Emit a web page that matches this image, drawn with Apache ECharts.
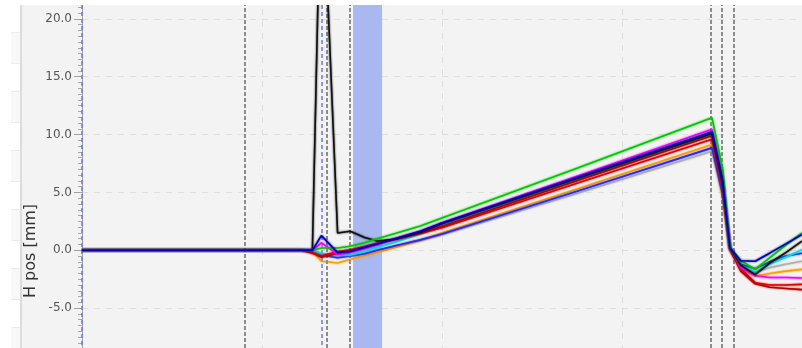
<!DOCTYPE html>
<html>
<head>
<meta charset="utf-8">
<script src="https://cdn.jsdelivr.net/npm/echarts@6/dist/echarts.min.js"></script>
<style>
  html, body { margin: 0; padding: 0; background: #ffffff; width: 802px; height: 348px; overflow: hidden; }
  .side { position: absolute; left: 11px; width: 9px; height: 30px; background: #f8f8f8; border-top: 1px solid #ececec; border-bottom: 1px solid #ececec; }
  #panel { position: absolute; left: 20px; top: 5px; width: 782px; height: 343px; background: #f3f3f3; border-left: 2px solid #dcdcdc; box-sizing: border-box; overflow: hidden; }
  #chart { position: absolute; left: -22px; top: -44px; width: 802px; height: 405px; }
</style>
</head>
<body>
<div class="side" style="top:32px"></div>
<div class="side" style="top:91px"></div>
<div class="side" style="top:150px"></div>
<div class="side" style="top:209px"></div>
<div class="side" style="top:268px"></div>
<div class="side" style="top:327px"></div>
<div id="panel"><div id="chart"></div></div>
<script>
// sample positions along the orbit coordinate
const xs = [0, 12.2, 12.8, 13.3, 14.2, 14.9, 15.7, 16.4, 17.4, 18.8, 20.0, 27.5, 35.0, 35.6, 36.0, 36.6, 37.4, 38.2, 39.1, 40.0];

// horizontal position per trace [mm]
const hGray    = [0, 0, 0, -0.3, -0.5, -0.5, -0.3, 0.0, 0.35, 0.85, 1.35, 4.9, 8.55, 4.7, 0.1, -1.3, -1.9, -1.5, -1.2, -0.95];
const hOrange  = [0, 0, -0.1, -0.95, -1.1, -0.8, -0.5, -0.2, 0.25, 0.85, 1.5, 5.3, 9.15, 4.5, 0.0, -1.6, -2.25, -2.0, -1.8, -1.65];
const hBlue2   = [0, 0, 0, -0.4, -0.65, -0.5, -0.3, 0.0, 0.4, 0.9, 1.4, 5.1, 8.85, 4.8, 0.1, -1.2, -1.6, -1.0, -0.5, -0.25];
const hCyan    = [0, 0, 0, -0.3, -0.4, -0.4, -0.1, 0.25, 0.7, 1.4, 2.15, 6.1, 10.0, 5.7, 0.2, -1.4, -1.9, -1.2, -0.6, 0.05];
const hRed     = [0, 0, -0.25, -0.5, -0.1, 0.05, 0.3, 0.6, 0.95, 1.45, 1.95, 5.8, 9.6, 5.4, 0.1, -1.6, -2.8, -3.0, -3.0, -2.95];
const hDarkRed = [0, 0, -0.2, -0.6, -0.25, 0.0, 0.25, 0.55, 0.95, 1.5, 2.05, 6.0, 9.9, 5.6, 0.1, -1.8, -2.9, -3.2, -3.3, -3.4];
const hMagenta = [0, 0, 0, 0.65, -0.35, -0.2, 0.15, 0.5, 1.0, 1.65, 2.35, 6.4, 10.45, 6.3, 0.3, -1.5, -2.2, -2.35, -2.35, -2.4];
const hBlack   = [0, 0, 0, 35, 1.5, 1.65, 1.1, 0.8, 0.95, 1.55, 2.3, 6.2, 10.1, 5.8, 0.2, -1.3, -2.1, -1.1, -0.2, 0.8];
const hGreen   = [0, 0, 0, 0.2, 0.2, 0.35, 0.65, 1.0, 1.45, 2.1, 2.8, 7.1, 11.45, 7.0, 0.2, -0.9, -1.65, -0.65, 0.45, 1.5];
const hBlue    = [0, 0, 0, 1.27, -0.2, -0.1, 0.25, 0.55, 1.0, 1.65, 2.35, 6.3, 10.25, 6.0, 0.2, -0.9, -0.95, -0.25, 0.55, 1.35];

const traces = [
  { name: 'gray',    color: '#b0b0b0', values: hGray },
  { name: 'orange',  color: '#ffa000', values: hOrange },
  { name: 'blue2',   color: '#2a2ae8', values: hBlue2 },
  { name: 'cyan',    color: '#00dede', values: hCyan },
  { name: 'red',     color: '#e40000', values: hRed },
  { name: 'darkred', color: '#b80000', values: hDarkRed },
  { name: 'magenta', color: '#ff00ff', values: hMagenta },
  { name: 'black',   color: '#111111', values: hBlack },
  { name: 'green',   color: '#00c800', values: hGreen },
  { name: 'blue',    color: '#0000b4', values: hBlue }
];

// element boundaries and markers
const boundaries = [9.06, 13.61, 14.89, 34.94, 35.56, 36.22];
const blueMarkers = [0, 13.33];
const band = [15.06, 16.67];

const chart = echarts.init(document.getElementById('chart'), null, { renderer: 'canvas' });

const lineSeries = traces.map((t, i) => ({
  name: t.name,
  type: 'line',
  z: 3 + i,
  showSymbol: false,
  animation: false,
  data: xs.map((x, k) => [x, t.values[k]]),
  lineStyle: { color: t.color, width: 1.6, shadowColor: t.color, shadowBlur: 2 },
  itemStyle: { color: t.color }
}));

const overlay = {
  type: 'line',
  z: 2,
  data: [],
  animation: false,
  markArea: {
    silent: true,
    itemStyle: { color: '#a9b8f0', opacity: 1 },
    data: [[{ xAxis: band[0] }, { xAxis: band[1] }]]
  },
  markLine: {
    silent: true,
    symbol: ['none', 'none'],
    label: { show: false },
    data: boundaries.map(v => ({ xAxis: v, lineStyle: { color: '#8c8c8c', type: [4, 2], width: 2 } }))
      .concat(blueMarkers.map(v => ({ xAxis: v, lineStyle: { color: '#6a78f0', type: [4, 3], width: 1.5 } })))
  }
};

chart.setOption({
  backgroundColor: 'transparent',
  animation: false,
  grid: { left: 82, right: 0, top: 0, bottom: 0, containLabel: false, outerBoundsMode: 'none' },
  xAxis: {
    type: 'value', min: 0, max: 40, interval: 10,
    axisLine: { show: false }, axisTick: { show: false }, axisLabel: { show: false },
    splitLine: { show: true, lineStyle: { color: '#dedede', type: [6, 6], width: 1 } }
  },
  yAxis: {
    type: 'value', min: -10, max: 25, interval: 5,
    axisLine: { show: true, lineStyle: { color: '#a0a0a0', width: 1 } },
    axisTick: { show: true, length: 8, lineStyle: { color: '#a0a0a0' } },
    minorTick: { show: true, splitNumber: 10, length: 4, lineStyle: { color: '#a8a8a8' } },
    axisLabel: {
      margin: 10, color: '#555555', fontFamily: 'DejaVu Sans', fontSize: 12,
      formatter: v => v.toFixed(1)
    },
    splitLine: { show: true, lineStyle: { color: '#dedede', type: [6, 6], width: 1 } }
  },
  graphic: [{
    type: 'text',
    x: 31, y: 290,
    rotation: Math.PI / 2,
    style: { text: 'H pos [mm]', fill: '#333333', font: '16px "DejaVu Sans"', align: 'center', verticalAlign: 'middle' }
  }],
  series: [overlay].concat(lineSeries)
});
</script>
</body>
</html>
